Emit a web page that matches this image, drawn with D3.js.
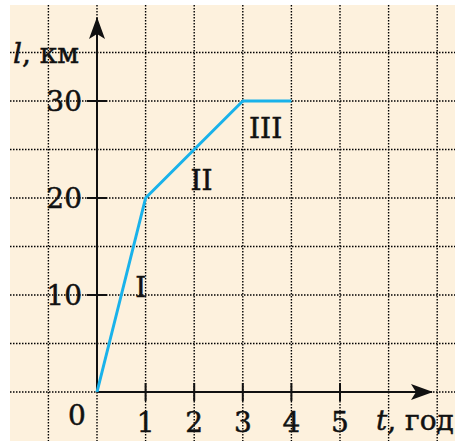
<!DOCTYPE html>
<html>
  <head>
    <meta charset='utf-8'>
    <title>l(t) chart</title>
    <script src='https://d3js.org/d3.v7.min.js'></script>
    <style>
      body { margin: 0; background: #fff; }
      text { font-family: 'DejaVu Serif', serif; fill: #111; stroke: #111; stroke-width: 0.5px; }
    </style>
  </head>
  <body>
    <svg id='chart'></svg>
  </body>
</html>
<script>

// data
var times = [0, 1, 3, 4];           // t, год
var distances = [0, 20, 30, 30];    // l, км
var xTicks = [1, 2, 3, 4, 5];
var yTicks = [10, 20, 30];
var segmentNames = ['I', 'II', 'III'];

var W = 455, H = 441;

var svg = d3.select('#chart').attr('width', W).attr('height', H);

// 1 hour = 1 grid cell, 5 km = 1 grid cell
var x = d3.scaleLinear().domain([0, 1]).range([97, 145.6]);
var y = d3.scaleLinear().domain([0, 30]).range([392, 101]);

// cream paper
svg.append('rect')
    .attr('x', 10).attr('y', 5)
    .attr('width', W - 10).attr('height', H - 5)
    .attr('fill', '#fdf1dd');

// dotted grid
svg.append('g').selectAll('line')
    .data(d3.range(-1, 8))
    .join('line')
    .attr('x1', d => x(d)).attr('x2', d => x(d))
    .attr('y1', 5).attr('y2', H)
    .attr('stroke', '#000')
    .attr('stroke-width', 1.4)
    .attr('stroke-dasharray', '1.5,1.5');

svg.append('g').selectAll('line')
    .data(d3.range(0, 40, 5).filter(d => y(d) > 6))
    .join('line')
    .attr('x1', 10).attr('x2', W)
    .attr('y1', d => y(d)).attr('y2', d => y(d))
    .attr('stroke', '#000')
    .attr('stroke-width', 1.4)
    .attr('stroke-dasharray', '1.5,1.5');

// arrow heads
svg.append('defs').append('marker')
    .attr('id', 'arrow')
    .attr('viewBox', '0 0 22 16')
    .attr('refX', 21).attr('refY', 8)
    .attr('markerWidth', 22).attr('markerHeight', 16)
    .attr('markerUnits', 'userSpaceOnUse')
    .attr('orient', 'auto')
    .append('path')
    .attr('d', 'M0,0 L22,8 L0,16 L5,8 Z')
    .attr('fill', '#111');

// axes
svg.append('line')
    .attr('x1', x(0)).attr('x2', 432)
    .attr('y1', y(0)).attr('y2', y(0))
    .attr('stroke', '#111').attr('stroke-width', 2)
    .attr('marker-end', 'url(#arrow)');

svg.append('line')
    .attr('x1', x(0)).attr('x2', x(0))
    .attr('y1', y(0)).attr('y2', 18)
    .attr('stroke', '#111').attr('stroke-width', 2)
    .attr('marker-end', 'url(#arrow)');

// ticks
svg.append('g').selectAll('line')
    .data(xTicks)
    .join('line')
    .attr('x1', d => x(d)).attr('x2', d => x(d))
    .attr('y1', y(0) - 9).attr('y2', y(0) + 9)
    .attr('stroke', '#111').attr('stroke-width', 2);

svg.append('g').selectAll('line')
    .data(yTicks)
    .join('line')
    .attr('x1', x(0) - 10).attr('x2', x(0) + 10)
    .attr('y1', d => y(d)).attr('y2', d => y(d))
    .attr('stroke', '#111').attr('stroke-width', 2);

// tick labels
svg.append('g').selectAll('text')
    .data(xTicks)
    .join('text')
    .attr('x', d => x(d))
    .attr('y', 432)
    .attr('text-anchor', 'middle')
    .style('font-size', '28px')
    .text(d => d);

svg.append('g').selectAll('text')
    .data(yTicks)
    .join('text')
    .attr('x', 82)
    .attr('y', d => y(d))
    .attr('dy', '0.36em')
    .attr('text-anchor', 'end')
    .style('font-size', '28px')
    .text(d => d);

svg.append('text')
    .attr('x', 77).attr('y', 425)
    .attr('text-anchor', 'middle')
    .style('font-size', '28px')
    .text('0');

// axis titles
var yTitle = svg.append('text')
    .attr('x', 13).attr('y', 63)
    .style('font-size', '28px');
yTitle.append('tspan').style('font-style', 'italic').text('l');
yTitle.append('tspan').text(', км');

var xTitle = svg.append('text')
    .attr('x', 376).attr('y', 430)
    .style('font-size', '28px');
xTitle.append('tspan').style('font-style', 'italic').text('t');
xTitle.append('tspan').text(', год');

// the l(t) graph
var line = d3.line()
    .x((d, i) => x(times[i]))
    .y(d => y(d));

svg.append('path')
    .datum(distances)
    .attr('d', line)
    .attr('fill', 'none')
    .attr('stroke', '#19b2ea')
    .attr('stroke-width', 3)
    .attr('stroke-linejoin', 'round');

// segment names, placed in data units
var namePos = [[0.9, 9.8], [2.15, 20.8], [3.47, 26.2]];
svg.append('g').selectAll('text')
    .data(segmentNames)
    .join('text')
    .attr('x', (d, i) => x(namePos[i][0]))
    .attr('y', (d, i) => y(namePos[i][1]))
    .attr('text-anchor', 'middle')
    .style('font-size', '28px')
    .text(d => d);

</script>
